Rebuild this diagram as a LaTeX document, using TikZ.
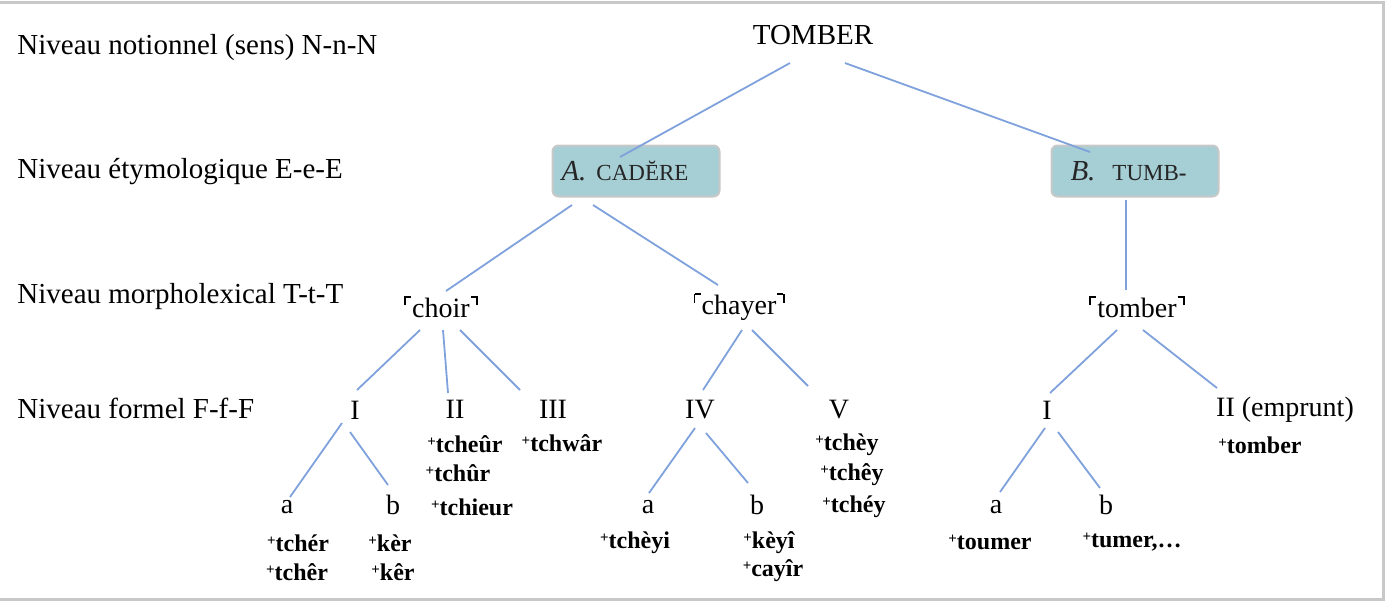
\documentclass[tikz,border=0pt]{standalone}
\usepackage{fontspec}
\setmainfont{Liberation Serif}
\usepackage{xcolor}
\usetikzlibrary{calc}

\definecolor{linkblue}{HTML}{7FA1DC}
\definecolor{boxteal}{HTML}{A6CED5}
\definecolor{framegray}{HTML}{C8C8C8}

% corner quotes round a lexical type
\newcommand\lcnr{\rule[.95ex]{.8pt}{.7ex}\rule[1.55ex]{.2em}{.8pt}\kern.5pt}
\newcommand\rcnr{\kern.5pt\rule[1.55ex]{.2em}{.8pt}\rule[.95ex]{.8pt}{.7ex}}
\newcommand\lex[1]{\lcnr#1\rcnr}
% attested form
\newcommand\att[1]{\raisebox{.55ex}{\fontsize{7.5}{7.5}\selectfont+}#1}

\begin{document}
\begin{tikzpicture}[x=0.5pt,y=-0.5pt,
level/.style = {anchor=west, inner sep=0, font=\fontsize{14.5}{17}\selectfont},
lab/.style = {inner sep=0, font=\fontsize{14}{17}\selectfont},
form/.style = {inner sep=0, font=\bfseries\fontsize{12}{14}\selectfont},
etym/.style = {draw=framegray, fill=boxteal, text=black!85, rounded corners=3pt,
  line width=1pt, inner xsep=4.5pt, text width=74.5pt, align=left,
  minimum height=25.5pt, font=\fontsize{14.5}{17}\selectfont},
branch/.style = {linkblue, line width=0.9pt}]
\useasboundingbox (0,0) rectangle (1390,602);
\draw[framegray,line width=1.5pt] (0,2) -- (1383,2) -- (1383,599) -- (0,599);

% levels
\node[level] (lvN) at (17,48) {Niveau notionnel (sens) N-n-N};
\node[level] (lvE) at (17,172) {Niveau étymologique E-e-E};
\node[level] (lvT) at (17,297) {Niveau morpholexical T-t-T};
\node[level] (lvF) at (17,408) {Niveau formel F-f-F};

% notion and etyma
\node[lab,font=\fontsize{14.5}{17}\selectfont] (tomber) at (813,35) {TOMBER};
\node[etym] (cadere) at (636,171) {\textit{A.}\hspace{5pt}{\fontsize{11.5}{14}\selectfont CADĔRE}};
\node[etym] (tumb) at (1135,171) {\hspace*{5pt}\textit{B.}\hspace{8.5pt}{\fontsize{11.5}{14}\selectfont TUMB\textbf{-}}};

% lexical types
\node[lab] (choir) at (441,307) {\lex{choir}};
\node[lab] (chayer) at (739,307) {\lex{chayer}};
\node[lab] (tomb) at (1137,307) {\lex{tomber}};

% formal types
\node[lab] (fI) at (355,410) {I};
\node[lab] (fII) at (455,409) {II};
\node[lab] (fIII) at (553,409) {III};
\node[lab] (fIV) at (700,410) {IV};
\node[lab] (fV) at (839,410) {V};
\node[lab] (gI) at (1047,410) {I};
\node[lab] (gII) at (1285,410) {II (emprunt)};

\node[lab] (a1) at (287,507) {a};
\node[lab] (b1) at (393,505) {b};
\node[lab] (a2) at (648,507) {a};
\node[lab] (b2) at (757,505) {b};
\node[lab] (a3) at (996,507) {a};
\node[lab] (b3) at (1106,505) {b};

% attested forms
\node[form] (t1) at (465,444) {\att{tcheûr}};
\node[form] (t2) at (458,473) {\att{tchûr}};
\node[form] (t3) at (472,507) {\att{tchieur}};
\node[form] (t4) at (562,443) {\att{tchwâr}};
\node[form] (t5) at (847,445) {\att{tchèy}};
\node[form] (t6) at (852,475) {\att{tchêy}};
\node[form] (t7) at (854,507) {\att{tchéy}};
\node[form] (t8) at (298,543) {\att{tchér}};
\node[form] (t9) at (297,572) {\att{tchêr}};
\node[form] (t10) at (390,543) {\att{kèr}};
\node[form] (t11) at (393,572) {\att{kêr}};
\node[form] (t12) at (635,543) {\att{tchèyi}};
\node[form] (t13) at (769,543) {\att{kèyî}};
\node[form] (t14) at (773,571) {\att{cayîr}};
\node[form] (t15) at (990,542) {\att{toumer}};
\node[form] (t16) at (1132,542) {\att{tumer,…}};
\node[form] (t17) at (1260,445) {\att{tomber}};

% branches
\draw[branch] ([shift={(-23,28)}]tomber.center) -- ([shift={(-16,-14)}]cadere.center);
\draw[branch] ([shift={(32,28)}]tomber.center) -- ([shift={(-45,-19)}]tumb.center);
\draw[branch] ([shift={(-64,34)}]cadere.center) -- ([shift={(5,-16)}]choir.center);
\draw[branch] ([shift={(-43,34)}]cadere.center) -- ([shift={(-21,-22)}]chayer.center);
\draw[branch] ([shift={(-9,29)}]tumb.center) -- ([shift={(-11,-17)}]tomb.center);

\draw[branch] ([shift={(-21,23)}]choir.center) -- ([shift={(2,-20)}]fI.center);
\draw[branch] ([shift={(2,23)}]choir.center) -- ([shift={(-7,-16)}]fII.center);
\draw[branch] ([shift={(19,23)}]choir.center) -- ([shift={(-33,-19)}]fIII.center);
\draw[branch] ([shift={(3,23)}]chayer.center) -- ([shift={(3,-20)}]fIV.center);
\draw[branch] ([shift={(13,23)}]chayer.center) -- ([shift={(-31,-24)}]fV.center);
\draw[branch] ([shift={(-20,23)}]tomb.center) -- ([shift={(3,-17)}]gI.center);
\draw[branch] ([shift={(6,23)}]tomb.center) -- ([shift={(-68,-22)}]gII.center);

\draw[branch] ([shift={(-13,13)}]fI.center) -- ([shift={(3,-10)}]a1.center);
\draw[branch] ([shift={(-5,22)}]fI.center) -- ([shift={(-5,-20)}]b1.center);
\draw[branch] ([shift={(-5,18)}]fIV.center) -- ([shift={(1,-14)}]a2.center);
\draw[branch] ([shift={(6,23)}]fIV.center) -- ([shift={(-9,-22)}]b2.center);
\draw[branch] ([shift={(-2,18)}]gI.center) -- ([shift={(4,-15)}]a3.center);
\draw[branch] ([shift={(11,22)}]gI.center) -- ([shift={(-6,-17)}]b3.center);
\end{tikzpicture}
\end{document}
